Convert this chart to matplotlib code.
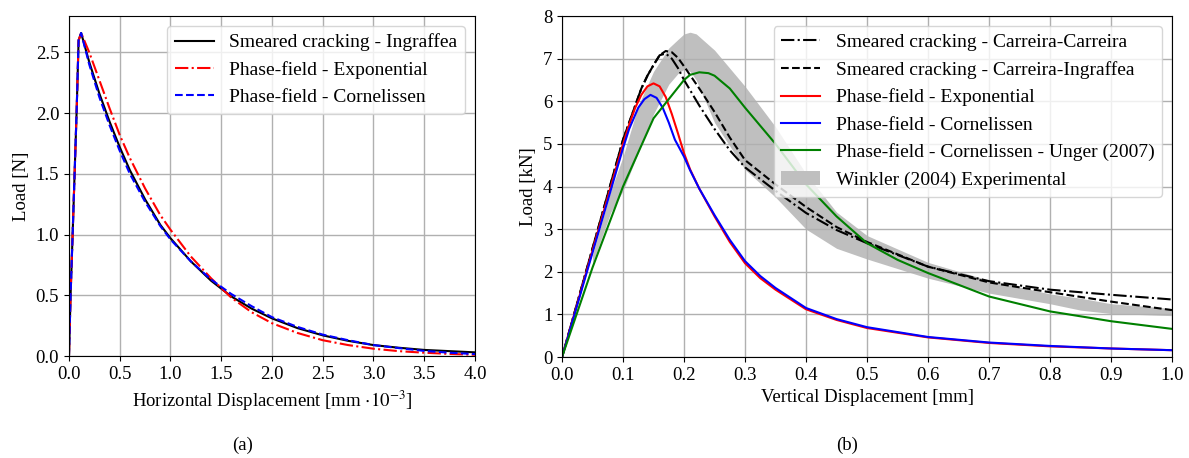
import matplotlib
matplotlib.use('Agg')
import matplotlib.pyplot as plt

plt.rcParams['font.family'] = ['Liberation Serif', 'DejaVu Serif']
plt.rcParams['mathtext.fontset'] = 'stix'
plt.rcParams['font.size'] = 13.5

# (a) horizontal displacement [mm 1e-3] vs load [N]
x_a = [0, 0.016, 0.036, 0.075, 0.095, 0.12, 0.2, 0.3, 0.4, 0.5, 0.6, 0.75, 0.9, 1.0,
       1.2, 1.4, 1.6, 1.8, 2.0, 2.25, 2.5, 2.75, 3.0, 3.25, 3.5, 3.75, 4.0]
smeared_ingraffea = [0, 0.5, 1.0, 2.0, 2.6, 2.66, 2.42, 2.16, 1.93, 1.72, 1.53, 1.29, 1.08, 0.97,
                     0.78, 0.62, 0.49, 0.39, 0.31, 0.23, 0.17, 0.125, 0.09, 0.068, 0.05, 0.04, 0.03]
pf_exponential_a = [0, 0.5, 1.0, 2.0, 2.6, 2.66, 2.5, 2.27, 2.04, 1.82, 1.63, 1.38, 1.16, 1.04,
                    0.82, 0.64, 0.48, 0.36, 0.27, 0.19, 0.13, 0.09, 0.06, 0.04, 0.027, 0.017, 0.01]
pf_cornelissen_a = [0, 0.5, 1.0, 2.0, 2.6, 2.66, 2.40, 2.13, 1.90, 1.69, 1.50, 1.27, 1.07, 0.96,
                    0.78, 0.63, 0.51, 0.41, 0.32, 0.24, 0.176, 0.13, 0.09, 0.065, 0.042, 0.027, 0.016]

# (b) vertical displacement [mm] vs load [kN]
x_cc = [0, 0.05, 0.1, 0.13, 0.14, 0.15, 0.16, 0.17, 0.18, 0.19, 0.2, 0.225, 0.25, 0.275, 0.3,
        0.35, 0.4, 0.45, 0.5, 0.6, 0.7, 0.8, 0.9, 1.0]
carreira_carreira = [0, 2.55, 5.1, 6.3, 6.6, 6.85, 7.08, 7.12, 7.0, 6.78, 6.5, 5.9, 5.35, 4.85, 4.45,
                     3.9, 3.38, 2.98, 2.67, 2.12, 1.78, 1.58, 1.46, 1.35]
x_ci = [0, 0.05, 0.1, 0.13, 0.14, 0.15, 0.16, 0.17, 0.18, 0.19, 0.2, 0.225, 0.25, 0.275, 0.3,
        0.35, 0.4, 0.45, 0.5, 0.6, 0.7, 0.8, 0.9, 1.0]
carreira_ingraffea = [0, 2.55, 5.1, 6.3, 6.6, 6.85, 7.08, 7.18, 7.15, 7.02, 6.82, 6.3, 5.75, 5.15, 4.62,
                      4.05, 3.52, 3.05, 2.7, 2.12, 1.75, 1.52, 1.3, 1.1]
x_exp = [0, 0.05, 0.1, 0.11, 0.12, 0.13, 0.14, 0.15, 0.16, 0.17, 0.18, 0.19, 0.2, 0.21, 0.225,
         0.25, 0.275, 0.3, 0.325, 0.35, 0.4, 0.45, 0.5, 0.6, 0.7, 0.8, 0.9, 1.0]
pf_exponential_b = [0, 2.5, 5.0, 5.45, 5.85, 6.15, 6.35, 6.42, 6.35, 6.1, 5.7, 5.25, 4.78, 4.4, 3.95,
                    3.3, 2.7, 2.2, 1.85, 1.58, 1.12, 0.87, 0.68, 0.46, 0.33, 0.25, 0.2, 0.16]
x_cor = [0, 0.05, 0.1, 0.11, 0.125, 0.135, 0.145, 0.155, 0.165, 0.175, 0.185, 0.2, 0.21, 0.225,
         0.25, 0.275, 0.3, 0.325, 0.35, 0.4, 0.45, 0.5, 0.6, 0.7, 0.8, 0.9, 1.0]
pf_cornelissen_b = [0, 2.45, 4.9, 5.35, 5.85, 6.05, 6.15, 6.08, 5.85, 5.5, 5.1, 4.7, 4.38, 3.95,
                    3.33, 2.75, 2.25, 1.9, 1.62, 1.15, 0.89, 0.7, 0.47, 0.34, 0.26, 0.2, 0.16]
x_ung = [0, 0.05, 0.1, 0.15, 0.2, 0.21, 0.225, 0.24, 0.25, 0.275, 0.3, 0.35, 0.4, 0.45, 0.5,
         0.55, 0.6, 0.7, 0.8, 0.9, 1.0]
pf_unger = [0, 2.1, 4.0, 5.6, 6.5, 6.62, 6.68, 6.66, 6.6, 6.3, 5.85, 5.0, 4.05, 3.3, 2.67,
            2.28, 1.97, 1.42, 1.07, 0.84, 0.66]
x_exp_band = [0.05, 0.08, 0.1, 0.125, 0.15, 0.175, 0.19, 0.2, 0.21, 0.22, 0.25, 0.3, 0.35, 0.4,
              0.45, 0.5, 0.6, 0.7, 0.8, 0.85, 0.9, 1.0]
winkler_low = [2.2, 3.4, 3.9, 4.8, 5.7, 6.4, 6.65, 6.75, 6.7, 6.5, 5.5, 4.4, 3.75, 3.0,
               2.55, 2.3, 1.85, 1.5, 1.25, 1.1, 1.02, 0.97]
winkler_high = [2.4, 3.9, 4.7, 5.9, 6.7, 7.25, 7.45, 7.58, 7.62, 7.58, 7.2, 6.35, 5.4, 4.3,
                3.4, 2.85, 2.22, 1.8, 1.48, 1.38, 1.25, 1.14]

fig = plt.figure(figsize=(11.89, 4.58), dpi=100)
ax1 = fig.add_axes([0.058, 0.2227, 0.3415, 0.7424])
ax2 = fig.add_axes([0.4727, 0.2205, 0.513, 0.7445])

lw = 1.5
ax1.plot(x_a, smeared_ingraffea, 'k-', lw=lw, label='Smeared cracking - Ingraffea')
ax1.plot(x_a, pf_exponential_a, 'r-.', lw=lw, label='Phase-field - Exponential')
ax1.plot(x_a, pf_cornelissen_a, 'b--', lw=lw, label='Phase-field - Cornelissen')
ax1.set_xlim(0, 4.0)
ax1.set_ylim(0, 2.8)
ax1.set_xticks([0, 0.5, 1.0, 1.5, 2.0, 2.5, 3.0, 3.5, 4.0])
ax1.set_yticks([0, 0.5, 1.0, 1.5, 2.0, 2.5])
ax1.set_xlabel(r'Horizontal Displacement [mm $\cdot 10^{-3}$]')
ax1.set_ylabel('Load [N]')
ax1.grid(True, color='#b0b0b0', lw=1)
ax1.legend(loc='upper right', fontsize=14)

ax2.fill_between(x_exp_band, winkler_low, winkler_high, color='0.75', lw=0,
                 label='Winkler (2004) Experimental', zorder=1)
ax2.plot(x_cc, carreira_carreira, 'k-.', lw=lw, label='Smeared cracking - Carreira-Carreira')
ax2.plot(x_ci, carreira_ingraffea, 'k--', lw=lw, label='Smeared cracking - Carreira-Ingraffea')
ax2.plot(x_exp, pf_exponential_b, 'r-', lw=lw, label='Phase-field - Exponential')
ax2.plot(x_cor, pf_cornelissen_b, 'b-', lw=lw, label='Phase-field - Cornelissen')
ax2.plot(x_ung, pf_unger, 'g-', lw=lw, label='Phase-field - Cornelissen - Unger (2007)')
ax2.set_xlim(0, 1.0)
ax2.set_ylim(0, 8)
ax2.set_xticks([i / 10 for i in range(11)])
ax2.set_xlabel('Vertical Displacement [mm]')
ax2.set_ylabel('Load [kN]')
ax2.grid(True, color='#b0b0b0', lw=1)
h, l = ax2.get_legend_handles_labels()
ax2.legend(h[1:] + h[:1], l[1:] + l[:1], loc='upper right', fontsize=14)

fig.text(243 / 1189, 1 - 445 / 458, '(a)', ha='center', va='center')
fig.text(847 / 1189, 1 - 445 / 458, '(b)', ha='center', va='center')

fig.savefig('out.png', dpi=100)
